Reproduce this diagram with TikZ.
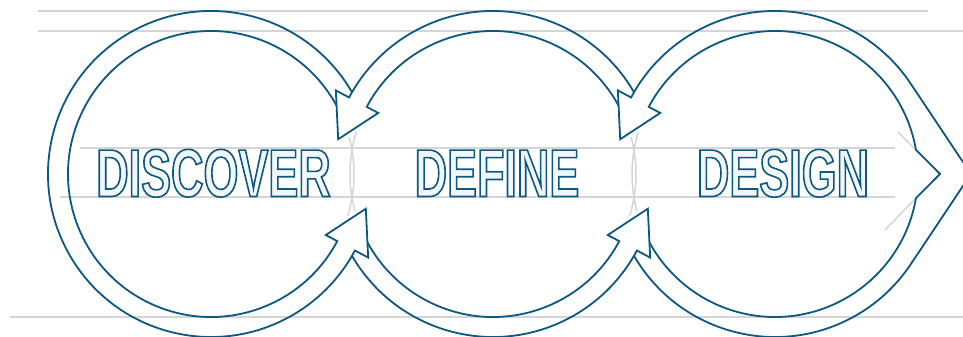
\documentclass[tikz,border=0pt]{standalone}
\usepackage{fontspec}
\usepackage{tikz}
\usetikzlibrary{calc}
\newfontfamily\stagefont{Liberation Sans}[FakeStretch=0.665]
\definecolor{loopblue}{HTML}{0C5880}
\definecolor{guidegray}{HTML}{D5D5D5}
\definecolor{letterfill}{HTML}{F3F6F9}
\newcommand\outlined[1]{\special{pdf:code q 2 Tr 1.6 w 0.047 0.345 0.502 RG}#1\special{pdf:code Q}}
\newcommand\arrowtip[2]{-- ($(#1)+(#2:178)$) -- ($(#1)+(#2:153)+(#2+90:42)$) -- ($(#1)+(#2:130)$) -- ($(#1)+(#2:143)$)}

\begin{document}
\begin{tikzpicture}[
    x=1pt,y=1pt,
    loop/.style={draw=loopblue,line width=1.8pt,line join=miter},
    guide/.style={draw=guidegray,line width=1.5pt},
    stage/.style={inner sep=0pt,anchor=base,text=letterfill,
      font=\stagefont\bfseries\fontsize{67.5}{67.5}\selectfont},
    ]
  \useasboundingbox (0,0) rectangle (963,337);
  \coordinate (c1) at (211,163);
  \coordinate (c2) at (493,163);
  \coordinate (c3) at (775,163);
  \coordinate (vin) at (940,163);
  \coordinate (vout) at (971,163);
  \draw[guide] (38,326) -- (928,326);
  \draw[guide] (38,306) -- (963,306);
  \draw[guide] (80,189) -- (895,189);
  \draw[guide] (60,140) -- (895,140);
  \draw[guide] (10,20) -- (963,20);
  \foreach \left/\right in {c1/c2,c2/c3}{
    \draw[guide] ($(\left)+(15:143)$) arc[start angle=15,end angle=-17,radius=143];
    \draw[guide] ($(\right)+(163:143)$) arc[start angle=163,end angle=195,radius=143];
  }
  \draw[guide] ($(c3)+(9.7:143)$) -- (898,205);
  \draw[guide] ($(c3)+(-9.7:143)$) -- (885,107);
  \node[stage] (discover) at (213.5,140.5) {\outlined{DISCOVER}};
  \node[stage] (define) at (497,140.5) {\outlined{DEFINE}};
  \node[stage] (design) at (783,140.5) {\outlined{DESIGN}};
  \draw[loop] ($(c1)+(30.1:163)$) arc[start angle=30.1,end angle=332,radius=163]
    \arrowtip{c1}{332} arc[start angle=332,end angle=28.6,radius=143];
  \draw[loop] ($(c2)+(210.1:163)$) arc[start angle=210.1,end angle=332,radius=163]
    \arrowtip{c2}{332} arc[start angle=332,end angle=208.6,radius=143];
  \draw[loop] ($(c2)+(30.1:163)$) arc[start angle=30.1,end angle=152,radius=163]
    \arrowtip{c2}{152} arc[start angle=152,end angle=28.6,radius=143];
  \draw[loop] ($(c3)+(210.1:163)$) arc[start angle=210.1,end angle=326.3,radius=163]
    -- (vout) -- ($(c3)+(33.7:163)$) arc[start angle=33.7,end angle=152,radius=163]
    \arrowtip{c3}{152} arc[start angle=152,end angle=9.7,radius=143]
    -- (vin) -- ($(c3)+(-9.7:143)$) arc[start angle=350.3,end angle=208.6,radius=143];
\end{tikzpicture}
\end{document}
